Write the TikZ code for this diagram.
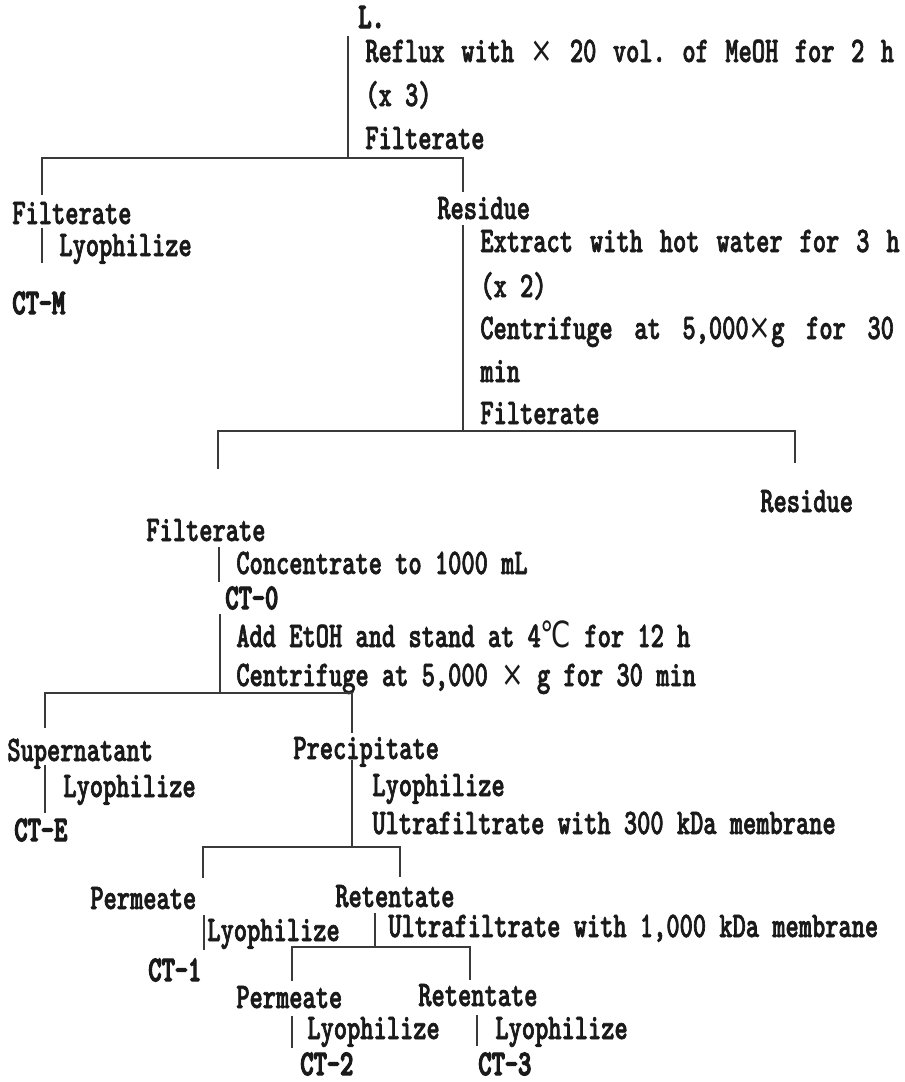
\documentclass[tikz,border=0pt]{standalone}
\usepackage{fontspec}
\newfontfamily\reffont{lmmonolt10-bold.otf}[FakeStretch=0.70,FakeBold=1.8]
\newfontfamily\ctfont{lmmonolt10-bold.otf}[FakeStretch=0.70,FakeBold=3.5]
\newfontfamily\celsius{DejaVu Sans}[FakeStretch=0.75]
\newcommand{\gap}{\hspace{0pt plus 1fil}}
\newcommand{\puta}{{\celsius ×}}
\definecolor{linija}{HTML}{3A3A3A}
\definecolor{tekst}{HTML}{1A1A1A}
\frenchspacing

\begin{document}
\begin{tikzpicture}[
  x=0.2mm, y=-0.2mm,
  txt/.style={anchor=base west, inner sep=0pt, text=tekst,
              font=\reffont\fontsize{20.5pt}{22pt}\selectfont},
  ct/.style={txt, font=\ctfont\fontsize{20.5pt}{22pt}\selectfont},
  veza/.style={draw=linija, line width=0.75pt}
]
\useasboundingbox (0,0) rectangle (905,1082);

% methanol extraction
\node[ct]  (leaf)    at (358,28)  {L.};
\node[txt] (reflux)  at (365,62)  {\makebox[106.4mm][l]{Reflux \gap with \gap \puta{} \gap 20 \gap vol. \gap of \gap MeOH \gap for \gap 2 \gap h}};
\node[txt] (rep3)    at (365,106) {(x 3)};
\node[txt] (filtA)   at (365,149) {Filterate};

\node[txt] (filtM)   at (12,224)  {Filterate};
\node[txt] (lyoM)    at (59,256)  {Lyophilize};
\node[ct]  (ctm)     at (12,314)  {CT-M};

% hot water extraction
\node[txt] (resA)    at (437,219) {Residue};
\node[txt] (extract) at (480,252) {\makebox[84.6mm][l]{Extract \gap with \gap hot \gap water \gap for \gap 3 \gap h}};
\node[txt] (rep2)    at (480,297) {(x 2)};
\node[txt] (cfgA)    at (480,339) {\makebox[84.4mm][l]{Centrifuge \gap at \gap 5,000\puta{}g \gap for \gap 30}};
\node[txt] (cfgAm)   at (480,382) {min};
\node[txt] (filtB)   at (480,424) {Filterate};

\node[txt] (resB)    at (760,512) {Residue};
\node[txt] (filtC)   at (146,541) {Filterate};
\node[txt] (conc)    at (236,574) {Concentrate to 1000 mL};
\node[ct]  (ct0)     at (225,609) {CT-0};
\node[txt] (etoh)    at (236,647) {Add EtOH and stand at 4{\celsius ℃} for 12 h};
\node[txt] (cfgB)    at (236,686) {Centrifuge at 5,000 \puta{} g for 30 min};

% ethanol fractions
\node[txt] (super)   at (7,761)   {Supernatant};
\node[txt] (lyoE)    at (63,797)  {Lyophilize};
\node[ct]  (cte)     at (14,841)  {CT-E};
\node[txt] (precip)  at (293,759) {Precipitate};
\node[txt] (lyoP)    at (372,796) {Lyophilize};
\node[txt] (uf300)   at (372,834) {Ultrafiltrate with 300 kDa membrane};

% ultrafiltration
\node[txt] (permA)   at (90,909)  {Permeate};
\node[txt] (retA)    at (335,907) {Retentate};
\node[txt] (lyo1)    at (207,941) {Lyophilize};
\node[txt] (uf1000)  at (388,937) {Ultrafiltrate with 1,000 kDa membrane};
\node[ct]  (ct1)     at (148,981) {CT-1};
\node[txt] (permB)   at (236,1008) {Permeate};
\node[txt] (retB)    at (418,1006) {Retentate};
\node[txt] (lyo2)    at (307,1039) {Lyophilize};
\node[txt] (lyo3)    at (495,1039) {Lyophilize};
\node[ct]  (ct2)     at (300,1075) {CT-2};
\node[ct]  (ct3)     at (478,1075) {CT-3};

% branch points
\coordinate (k1) at (348,36);   \coordinate (g1) at (348,158);
\coordinate (g1l) at (42,195);  \coordinate (g1d) at (463,192);
\coordinate (k2) at (463,225);  \coordinate (g2) at (463,431);
\coordinate (g2l) at (218,469); \coordinate (g2d) at (795,463);
\coordinate (k3) at (220,614);  \coordinate (g3) at (220,693);
\coordinate (g3l) at (45,728);  \coordinate (g3d) at (352,733);
\coordinate (k4) at (352,760);  \coordinate (g4) at (352,847);
\coordinate (g4l) at (203,878); \coordinate (g4d) at (400,877);
\coordinate (k5) at (375,913);  \coordinate (g5) at (375,947);
\coordinate (g5l) at (292,981); \coordinate (g5d) at (470,980);

\draw[veza] (k1) -- (g1);
\draw[veza] (g1l) -- (g1l |- g1) -- (g1d |- g1) -- (g1d);
\draw[veza] (k2) -- (g2);
\draw[veza] (g2l) -- (g2l |- g2) -- (g2d |- g2) -- (g2d);
\draw[veza] (k3) -- (g3);
\draw[veza] (g3l) -- (g3l |- g3) -- (g3d |- g3) -- (g3d);
\draw[veza] (k4) -- (g4);
\draw[veza] (g4l) -- (g4l |- g4) -- (g4d |- g4) -- (g4d);
\draw[veza] (k5) -- (g5);
\draw[veza] (g5l) -- (g5l |- g5) -- (g5d |- g5) -- (g5d);

% single steps
\coordinate (m1) at (42,228);   \coordinate (m2) at (42,263);
\coordinate (c1) at (219,547);  \coordinate (c2) at (219,582);
\coordinate (e1) at (45,765);   \coordinate (e2) at (45,813);
\coordinate (p1) at (204,915);  \coordinate (p2) at (204,950);
\coordinate (q1) at (292,1016); \coordinate (q2) at (292,1048);
\coordinate (r1) at (477,1015); \coordinate (r2) at (477,1046);
\draw[veza] (m1) -- (m2);
\draw[veza] (c1) -- (c2);
\draw[veza] (e1) -- (e2);
\draw[veza] (p1) -- (p2);
\draw[veza] (q1) -- (q2);
\draw[veza] (r1) -- (r2);
\end{tikzpicture}
\end{document}
